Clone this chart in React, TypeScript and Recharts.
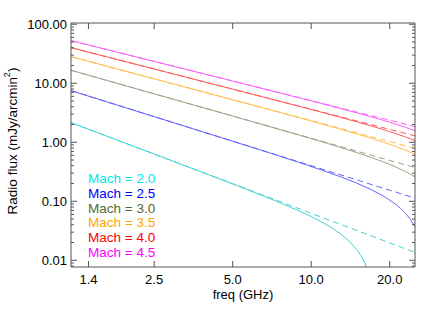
import React from 'react';
import { LineChart, Line, XAxis, YAxis, Legend } from 'recharts';

// ---- labels / colours ----
const MACH_LABELS = ['Mach = 2.0', 'Mach = 2.5', 'Mach = 3.0', 'Mach = 3.5', 'Mach = 4.0', 'Mach = 4.5'];
const LINE_COLORS = ['#45d2d2', '#6464ff', '#9ea388', '#ffbb4a', '#ff5a5a', '#ff5cff'];
const TEXT_COLORS = ['#00e6e6', '#0000ff', '#556b2f', '#ffa500', '#ff0000', '#ff00ff'];

// ---- axis ticks ----
const X_TICKS = [1.4, 2.5, 5.0, 10.0, 20.0];
const Y_MAJOR = [0.01, 0.1, 1, 10, 100];
const Y_MINOR_MULT = [2, 3, 4, 5, 6, 7, 8, 9];
const X_DOMAIN = [1.2, 25];
const Y_DOMAIN = [0.0077, 105];

// ---- solid curves (observed spectra) ----
const FREQ_M20 = [1.2, 3, 5, 7, 9, 10, 11, 12, 13, 14, 15, 15.5, 16, 16.5, 17];
const FLUX_M20 = [2.148, 0.4655, 0.1971, 0.1098, 0.06858, 0.05512, 0.04433, 0.03538, 0.02772, 0.02098, 0.0149, 0.01207, 0.00932, 0.00667, 0.00408];
const FREQ_M25 = [1.2, 3, 5, 7, 9, 11, 13, 15, 17, 19, 21, 22, 23, 24, 25];
const FLUX_M25 = [7.499, 2.115, 1.042, 0.6506, 0.4541, 0.3369, 0.2587, 0.2017, 0.1575, 0.1213, 0.0902, 0.076, 0.0625, 0.0495, 0.0369];
const FREQ_HI = [1.2, 3, 5, 7, 9, 11, 13, 15, 17, 19, 21, 23, 25];
const FLUX_M30 = [16.6, 5.28, 2.78, 1.82, 1.32, 1.02, 0.814, 0.666, 0.552, 0.461, 0.385, 0.319, 0.261];
const FLUX_M35 = [28.25, 9.6, 5.25, 3.53, 2.61, 2.05, 1.66, 1.38, 1.17, 0.997, 0.855, 0.734, 0.627];
const FLUX_M40 = [40.09, 14.19, 7.95, 5.42, 4.06, 3.22, 2.64, 2.21, 1.89, 1.63, 1.41, 1.23, 1.07];
const FLUX_M45 = [52.72, 19.17, 10.9, 7.5, 5.66, 4.51, 3.72, 3.14, 2.7, 2.34, 2.04, 1.79, 1.57];

// ---- dashed curves (pure power law) ----
const FREQ_PL = [1.2, 25];
const PL_M20 = [2.148, 0.0136];
const PL_M25 = [7.499, 0.1132];
const PL_M30 = [16.6, 0.3725];
const PL_M35 = [28.25, 0.7899];
const PL_M40 = [40.09, 1.285];
const PL_M45 = [52.72, 1.845];

const toPts = (fs: number[], vs: number[]) => fs.map((f, i) => ({ f, v: vs[i] }));

const SOLID = [
  toPts(FREQ_M20, FLUX_M20),
  toPts(FREQ_M25, FLUX_M25),
  toPts(FREQ_HI, FLUX_M30),
  toPts(FREQ_HI, FLUX_M35),
  toPts(FREQ_HI, FLUX_M40),
  toPts(FREQ_HI, FLUX_M45),
];
const DASHED = [PL_M20, PL_M25, PL_M30, PL_M35, PL_M40, PL_M45].map((p) => toPts(FREQ_PL, p));

const Y_TICKS: number[] = [];
Y_MAJOR.forEach((m) => {
  Y_TICKS.push(m);
  Y_MINOR_MULT.forEach((k) => Y_TICKS.push(m * k));
  Y_MINOR_MULT.forEach((k) => Y_TICKS.push((m / 10) * k));
});
const Y_TICKS_IN = Array.from(new Set(Y_TICKS.map((t) => +t.toPrecision(6))))
  .filter((t) => t >= Y_DOMAIN[0] && t <= Y_DOMAIN[1])
  .sort((a, b) => a - b);

const isMajor = (v: number) => Math.abs(Math.log10(v) - Math.round(Math.log10(v))) < 1e-6;

const FONT = '"Liberation Sans", Arial, Helvetica, sans-serif';
const AXIS_COLOR = '#555';
const MAJ = 6;
const MIN = 3;
const LEFT_M = 4;
const BOT_M = 0;

const LeftTick = (props: any) => {
  const { x, y, payload } = props;
  const v = payload.value;
  const ax = x + LEFT_M;
  const major = isMajor(v);
  return (
    <g>
      <line x1={ax} x2={ax + (major ? MAJ : MIN)} y1={y} y2={y} stroke={AXIS_COLOR} strokeWidth={1} />
      {major && (
        <text x={x} y={y} dy="0.36em" textAnchor="end" fontFamily={FONT} fontSize={13} fill="#000">
          {v.toFixed(2)}
        </text>
      )}
    </g>
  );
};

const RightTick = (props: any) => {
  const { x, y, payload } = props;
  const major = isMajor(payload.value);
  return <line x1={x} x2={x - (major ? MAJ : MIN)} y1={y} y2={y} stroke={AXIS_COLOR} strokeWidth={1} />;
};

const BottomTick = (props: any) => {
  const { x, y, payload } = props;
  const ay = y - BOT_M;
  return (
    <g>
      <line x1={x} x2={x} y1={ay} y2={ay - MAJ} stroke={AXIS_COLOR} strokeWidth={1} />
      <text x={x} y={ay + 12.5} dy="0.36em" textAnchor="middle" fontFamily={FONT} fontSize={13} fill="#000">
        {payload.value.toFixed(1)}
      </text>
    </g>
  );
};

const TopTick = (props: any) => {
  const { x, y } = props;
  return <line x1={x} x2={x} y1={y} y2={y + MAJ} stroke={AXIS_COLOR} strokeWidth={1} />;
};

const XLabel = (props: any) => {
  const vb = props.viewBox;
  return (
    <text x={vb.x + vb.width / 2} y={vb.y + 32} textAnchor="middle" fontFamily={FONT} fontSize={13} fill="#000">
      freq (GHz)
    </text>
  );
};

const YLabel = (props: any) => {
  const vb = props.viewBox;
  const cx = 12;
  const cy = vb.y + vb.height / 2 - 4;
  return (
    <text
      x={cx}
      y={cy}
      transform={`rotate(-90 ${cx} ${cy})`}
      textAnchor="middle"
      dominantBaseline="central"
      fontFamily={FONT}
      fontSize={13.5}
      fill="#000"
    >
      <tspan>Radio flux (mJy/arcmin</tspan>
      <tspan dy={-5} fontSize={9}>2</tspan>
      <tspan dy={5}>)</tspan>
    </text>
  );
};

const LegendContent = () => (
  <div style={{ fontFamily: FONT, fontSize: 13.5, lineHeight: '14.8px', whiteSpace: 'nowrap' }}>
    {MACH_LABELS.map((l, i) => (
      <div key={l} style={{ color: TEXT_COLORS[i] }}>
        {l}
      </div>
    ))}
  </div>
);

export default function App() {
  return (
    <div style={{ position: 'absolute', left: 0, top: 0, width: 436, height: 312, background: '#fff' }}>
      <LineChart width={436} height={312} margin={{ top: 22, right: 20, bottom: 0, left: 0 }}>
        <XAxis
          xAxisId="bottom"
          dataKey="f"
          type="number"
          scale="log"
          domain={X_DOMAIN}
          allowDataOverflow
          ticks={X_TICKS}
          interval={0}
          height={45}
          tickLine={false}
          tickSize={0}
          tickMargin={BOT_M}
          tick={BottomTick}
          axisLine={{ stroke: AXIS_COLOR }}
          label={{ content: XLabel }}
        />
        <XAxis
          xAxisId="top"
          orientation="top"
          dataKey="f"
          type="number"
          scale="log"
          domain={X_DOMAIN}
          allowDataOverflow
          ticks={X_TICKS}
          interval={0}
          height={1}
          tickLine={false}
          tickSize={0}
          tickMargin={0}
          tick={TopTick}
          axisLine={{ stroke: AXIS_COLOR }}
        />
        <YAxis
          yAxisId="left"
          type="number"
          scale="log"
          domain={Y_DOMAIN}
          allowDataOverflow
          ticks={Y_TICKS_IN}
          interval={0}
          width={71}
          tickLine={false}
          tickSize={0}
          tickMargin={LEFT_M}
          tick={LeftTick}
          axisLine={{ stroke: AXIS_COLOR }}
          label={{ content: YLabel }}
        />
        <YAxis
          yAxisId="right"
          orientation="right"
          type="number"
          scale="log"
          domain={Y_DOMAIN}
          allowDataOverflow
          ticks={Y_TICKS_IN}
          interval={0}
          width={1}
          tickLine={false}
          tickSize={0}
          tickMargin={0}
          tick={RightTick}
          axisLine={{ stroke: AXIS_COLOR }}
        />
        {DASHED.map((d, i) => (
          <Line
            key={'d' + i}
            data={d}
            dataKey="v"
            xAxisId="top"
            yAxisId="right"
            type="linear"
            stroke={LINE_COLORS[i]}
            strokeWidth={1}
            strokeDasharray="6 4"
            dot={false}
            activeDot={false}
            isAnimationActive={false}
            legendType="none"
          />
        ))}
        {SOLID.map((d, i) => (
          <Line
            key={'s' + i}
            data={d}
            dataKey="v"
            name={MACH_LABELS[i]}
            xAxisId="bottom"
            yAxisId="left"
            type="linear"
            stroke={LINE_COLORS[i]}
            strokeWidth={1}
            dot={false}
            activeDot={false}
            isAnimationActive={false}
          />
        ))}
        <Legend
          layout="vertical"
          align="center"
          verticalAlign="middle"
          content={LegendContent}
          wrapperStyle={{ left: 88, top: 172, width: 90, height: 90 }}
        />
      </LineChart>
    </div>
  );
}
